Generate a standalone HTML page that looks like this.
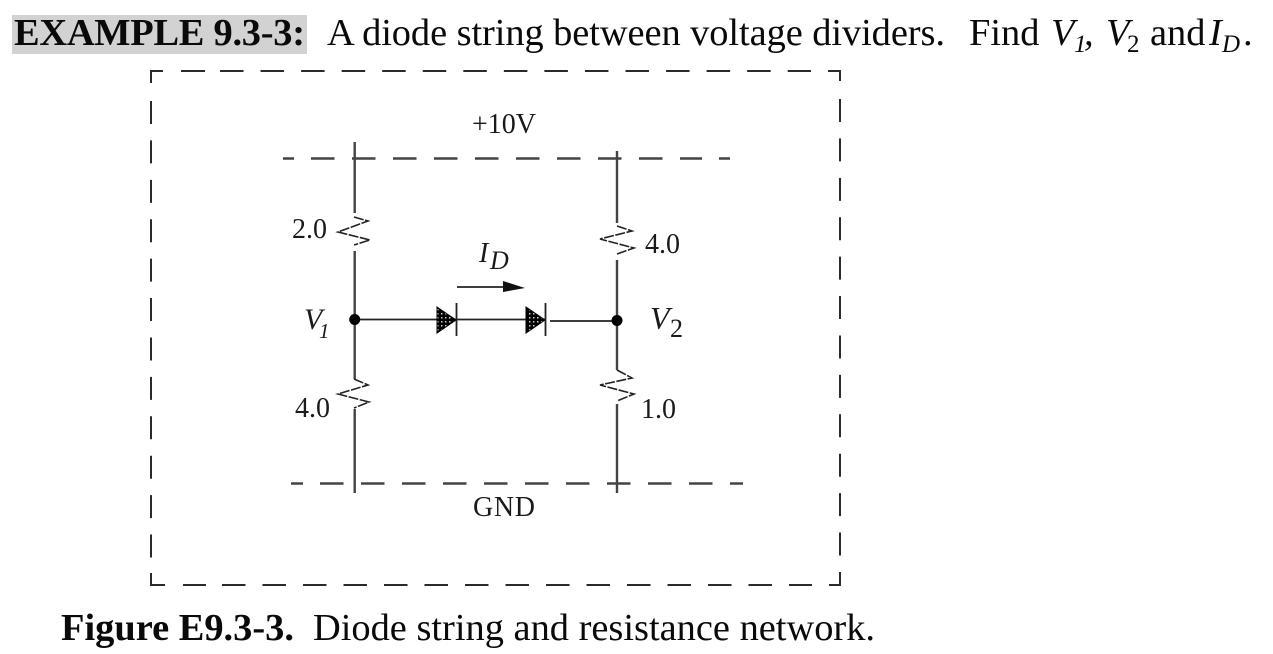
<!DOCTYPE html>
<html><head><meta charset="utf-8">
<style>
html,body{margin:0;padding:0;background:#fff;width:1273px;height:654px;overflow:hidden}
svg{display:block}
text{font-family:"Liberation Serif",serif;fill:#0a0a0a}
.l{fill:#1a1a1a}
.b{stroke:#2a2a2a;stroke-width:2;fill:none}
.d{stroke:#444;stroke-width:2.4;fill:none}
.w{stroke:#444;stroke-width:2.4;fill:none}
.r{stroke:#222;stroke-width:1.6;fill:none;stroke-dasharray:10 1.5}
.s{filter:blur(0.3px)}
</style></head><body>
<svg width="1273" height="654" viewBox="0 0 1273 654" xmlns="http://www.w3.org/2000/svg">
<defs>
<pattern id="st" width="4" height="4" patternUnits="userSpaceOnUse"><rect width="4" height="4" fill="#000"/><rect x="1" y="1" width="1.500" height="1.500" fill="#ccc"/></pattern>
</defs>
<rect x="12" y="15" width="295" height="39" fill="#d2d2d2"/>
<text x="14" y="45" font-size="38.400" font-weight="bold" textLength="291">EXAMPLE 9.3-3:</text>
<text x="327" y="45" font-size="38.400" textLength="618">A diode string between voltage dividers.</text>
<text x="969" y="45" font-size="38.400">Find</text>
<text x="1051" y="45" font-size="38.400" font-style="italic">V</text>
<text x="1074" y="52" font-size="25" font-style="italic">1</text>
<text x="1084" y="45" font-size="38.400" font-style="italic">,</text>
<text x="1106" y="45" font-size="38.400" font-style="italic">V</text>
<text x="1127" y="52" font-size="25">2</text>
<text x="1150" y="45" font-size="38.400">and</text>
<text x="1209" y="45" font-size="38.400" font-style="italic">I</text>
<text x="1222" y="52" font-size="25" font-style="italic">D</text>
<text x="1243" y="45" font-size="38.400">.</text>

<g class="s">
<path class="b" d="M151 83V71H163M828 71H840V81M151 573V585H165M829 585H840V572"/>
<path class="b" d="M181 71H205"/>
<path class="b" stroke-dasharray="23.500 17.050" d="M220 71H811"/>
<path class="b" d="M183 585H206"/>
<path class="b" stroke-dasharray="23.500 17" d="M222 585H812"/>
<path class="b" stroke-dasharray="23 16.410" d="M151 101V558"/>
<path class="b" stroke-dasharray="23 16.410" d="M840 99V556.500"/>

<path class="d" d="M283 158.500H294M719 158.500H730"/>
<path class="d" stroke-dasharray="23.500 17.500" d="M311 158.500H702"/>
<path class="d" d="M291 483.500H303M730 483.500H743"/>
<path class="d" stroke-dasharray="23.500 17.500" d="M320 483.500H713"/>

<path class="w" d="M354.700 142V213M354.700 251V379M354.700 409V493M617 151V223M617 260V370M617 404V493"/>
<path class="r" d="M354 217L368 221L338 232L370 240L354 245"/>
<path class="r" d="M354 379L368 385L338 394L369 402L354 408"/>
<path class="r" d="M617 226L632 231L600 239L634 248L617 254"/>
<path class="r" d="M617 370L632 378L600 385L634 394L617 401"/>

<path d="M355 319.500H546M550 321H617" stroke="#222" stroke-width="1.800" fill="none"/>
<circle cx="354.700" cy="319.500" r="5.500" fill="#000"/>
<circle cx="617" cy="320.500" r="5.500" fill="#000"/>
<path d="M437 307L456 320L437 333Z" fill="url(#st)" stroke="#000"/>
<path d="M526 307L545 320L526 333Z" fill="url(#st)" stroke="#000"/>
<path d="M456.500 303V336M545.500 303V336" stroke="#222" stroke-width="1.800"/>
<path d="M457 287H505" stroke="#222" stroke-width="1.800"/>
<path d="M503 281L525 288L503 292Z" fill="#111"/>
</g>

<text class="l" x="472" y="133" font-size="28" textLength="64">+10V</text>
<text class="l" x="473" y="516" font-size="28" textLength="62">GND</text>
<text class="l" x="292" y="238" font-size="28" textLength="35">2.0</text>
<text class="l" x="645" y="253" font-size="28" textLength="35">4.0</text>
<text class="l" x="295" y="417" font-size="28" textLength="35">4.0</text>
<text class="l" x="641" y="418" font-size="28" textLength="35">1.0</text>
<text class="l" x="479" y="262" font-size="28" font-style="italic">I</text>
<text class="l" x="490" y="269" font-size="26" font-style="italic">D</text>
<text class="l" x="304" y="329" font-size="30" font-style="italic">V</text>
<text class="l" x="319" y="338" font-size="21" font-style="italic">1</text>
<text class="l" x="650" y="329" font-size="32" font-style="italic">V</text>
<text class="l" x="670" y="337" font-size="26">2</text>

<text x="61" y="640" font-size="38.400" font-weight="bold" textLength="233">Figure E9.3-3.</text>
<text x="313" y="640" font-size="38.400" textLength="562">Diode string and resistance network.</text>
</svg>
</body></html>
